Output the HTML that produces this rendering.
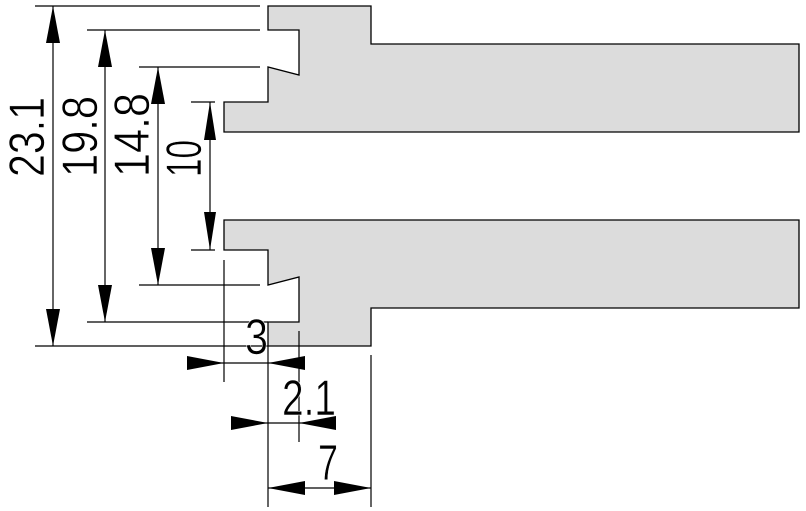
<!DOCTYPE html>
<html><head><meta charset="utf-8"><style>html,body{margin:0;padding:0;background:#fff}svg{display:block}</style></head>
<body>
<svg width="806" height="511" viewBox="0 0 806 511" xmlns="http://www.w3.org/2000/svg">
<g fill="#dcdcdc" stroke="#000" stroke-width="1.3">
<polygon points="268,6 371,6 371,44 799,44 799,132 224,132 224,102 268,102 268,67 299,75 299,30 268,30"/>
<polygon points="224,220 799,220 799,308 371,308 371,346 268,346 268,322 299,322 299,277 268,285 268,250 224,250"/>
</g>
<g stroke="#000" stroke-width="1.2" fill="none">
<line x1="35" y1="6" x2="260" y2="6"/>
<line x1="87" y1="30" x2="260" y2="30"/>
<line x1="139" y1="67" x2="260" y2="67"/>
<line x1="191" y1="102" x2="215" y2="102"/>
<line x1="191" y1="250" x2="215" y2="250"/>
<line x1="139" y1="285" x2="260" y2="285"/>
<line x1="87" y1="322" x2="268" y2="322"/>
<line x1="35" y1="346" x2="268" y2="346"/>
<line x1="53" y1="6" x2="53" y2="346"/>
<line x1="105" y1="30" x2="105" y2="322"/>
<line x1="158" y1="67" x2="158" y2="285"/>
<line x1="210" y1="102" x2="210" y2="250"/>
<line x1="224" y1="260" x2="224" y2="382"/>
<line x1="268" y1="346" x2="268" y2="507"/>
<line x1="299" y1="331" x2="299" y2="442"/>
<line x1="371" y1="355" x2="371" y2="507"/>
<line x1="187" y1="363" x2="305" y2="363"/>
<line x1="231" y1="423" x2="334" y2="423"/>
<line x1="268" y1="488" x2="371" y2="488"/>
</g>
<g fill="#000">
<polygon points="53,6 46,43 60,43"/><polygon points="53,346 46,309 60,309"/>
<polygon points="105,30 98,67 112,67"/><polygon points="105,322 98,285 112,285"/>
<polygon points="158,67 151,104 165,104"/><polygon points="158,285 151,248 165,248"/>
<polygon points="210,102 204,140 216,140"/><polygon points="210,250 204,212 216,212"/>
<polygon points="224,363 187,356 187,370"/><polygon points="268,363 305,356 305,370"/>
<polygon points="268,423 231,416 231,430"/><polygon points="299,423 336,416 336,430"/>
<polygon points="268,488 305,481 305,495"/><polygon points="371,488 334,481 334,495"/>
</g>
<g font-family="Liberation Sans, sans-serif" font-size="50" fill="#000" stroke="#fff" stroke-width="0.6" font-weight="normal">
<text transform="translate(44,177) rotate(-90)" textLength="80" lengthAdjust="spacingAndGlyphs">23.1</text>
<text transform="translate(97,177) rotate(-90)" textLength="81" lengthAdjust="spacingAndGlyphs">19.8</text>
<text transform="translate(149,177) rotate(-90)" textLength="84" lengthAdjust="spacingAndGlyphs">14.8</text>
<text transform="translate(201,177) rotate(-90)" textLength="37" lengthAdjust="spacingAndGlyphs">10</text>
<text x="245" y="354" textLength="23" lengthAdjust="spacingAndGlyphs">3</text>
<text x="282" y="415" textLength="54" lengthAdjust="spacingAndGlyphs">2.1</text>
<text x="318" y="480" textLength="20" lengthAdjust="spacingAndGlyphs">7</text>
</g>
</svg>
</body></html>
